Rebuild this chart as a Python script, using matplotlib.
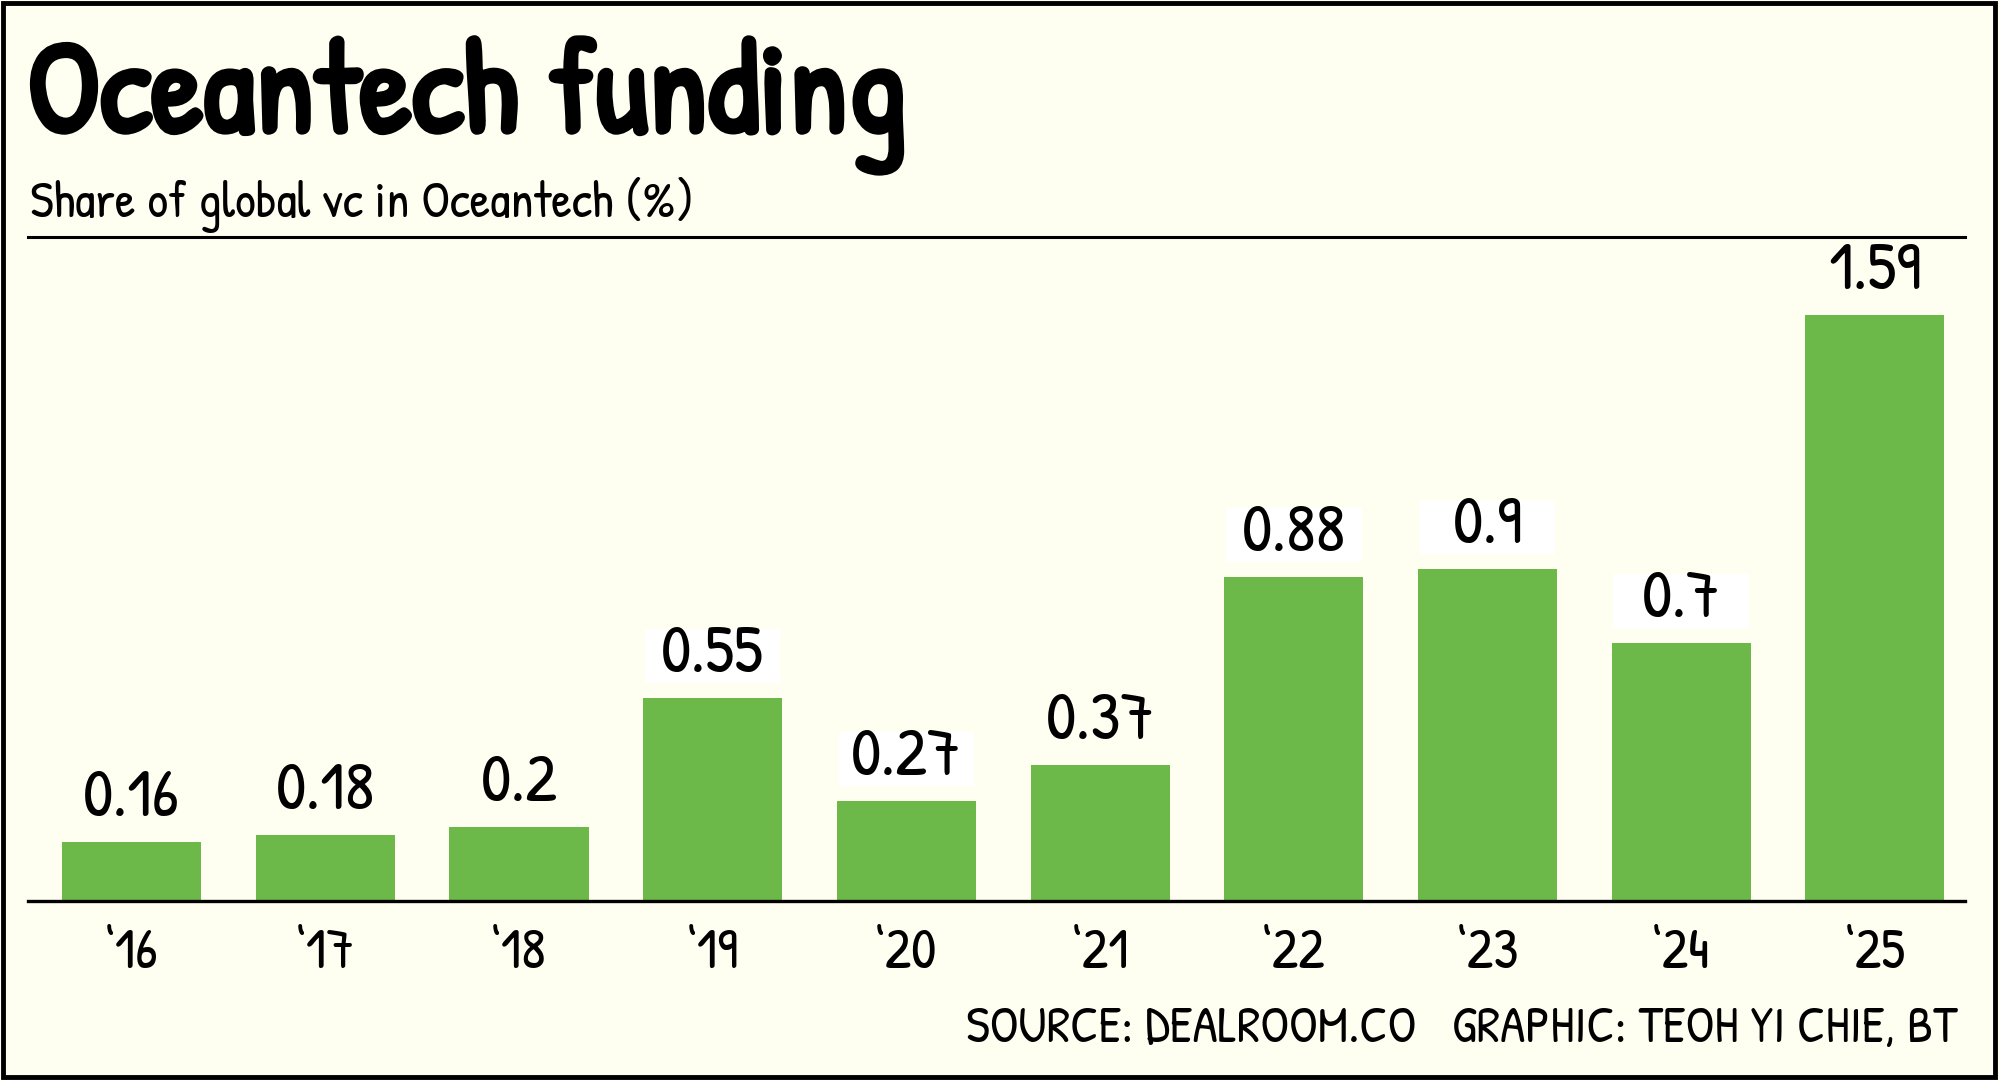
import matplotlib
matplotlib.use('Agg')
import matplotlib.pyplot as plt
import matplotlib.patheffects as pe
from matplotlib.patches import Rectangle
import numpy as np

years = ['\u201816', '\u201817', '\u201818', '\u201819', '\u201820',
         '\u201821', '\u201822', '\u201823', '\u201824', '\u201825']
share = [0.16, 0.18, 0.2, 0.55, 0.27, 0.37, 0.88, 0.9, 0.7, 1.59]
labels = ['0.16', '0.18', '0.2', '0.55', '0.27', '0.37', '0.88', '0.9', '0.7', '1.59']
# which value labels sit on a white patch in the original
boxed = [False, False, False, True, True, False, True, True, True, False]

bg = '#fefef1'
green = '#6cb94a'
plt.rcParams['font.family'] = ['Patrick Hand', 'DejaVu Sans']

fig = plt.figure(figsize=(20, 10.8), dpi=100)
fig.patch.set_facecolor(bg)

ax = fig.add_axes([0.014, 0.1657, 0.9685, 0.6149])
ax.set_facecolor(bg)

x = np.arange(len(share))
vals = np.array(share)
ax.bar(x, vals, width=0.718, color=green, zorder=2)

# white boxes behind some of the value labels
bx = x[np.array(boxed)]
ax.bar(bx, 0.1465, width=0.70, bottom=vals[np.array(boxed)] + 0.0407,
       color='white', zorder=2)
vtexts = []
for xi, v, lab in zip(x, vals, labels):
    t = ax.text(xi, v + 0.0705, lab, ha='center', va='baseline', fontsize=40, zorder=3)
    vtexts.append(t)

ax.set_xlim(-0.5346, 9.465)
ax.set_ylim(0, 1.801)
ax.set_xticks(x)
ax.set_xticklabels(years, fontsize=28)
ax.tick_params(axis='x', length=0, pad=19)
ax.set_yticks([])
for s in ['left', 'right']:
    ax.spines[s].set_visible(False)
ax.spines['top'].set_linewidth(2.2)
ax.spines['bottom'].set_linewidth(2.4)

title = fig.text(0.0135, 0.8778, 'Oceantech funding', fontsize=100, va='baseline',
                 path_effects=[pe.withStroke(linewidth=3.8, foreground='black')])
sub = fig.text(0.015, 0.7991, 'Share of global vc in Oceantech (%)', fontsize=40,
               va='baseline')
src = fig.text(0.9785, 0.0352, 'SOURCE: DEALROOM.CO   GRAPHIC: TEOH YI CHIE, BT',
               fontsize=40, ha='right', va='baseline')

# scale font sizes so the texts take the widths seen in the original
fig.canvas.draw()
r = fig.canvas.get_renderer()


def fit(t, width_px):
    w = t.get_window_extent(r).width
    t.set_fontsize(t.get_fontsize() * width_px / w)


fit(title, 880)
fit(sub, 663)
fit(src, 992)
w = vtexts[0].get_window_extent(r).width
size = 40 * 97 / w
for t in vtexts:
    t.set_fontsize(size)
tl = ax.get_xticklabels()[0]
tsize = 28 * 54 / tl.get_window_extent(r).width
ax.tick_params(axis='x', labelsize=tsize)

# frame round the graphic
fig.patches.append(Rectangle((0.0015, 0.0028), 0.996, 0.9944, transform=fig.transFigure,
                             fill=False, edgecolor='black', linewidth=3.5))

fig.savefig('out.png', dpi=100, facecolor=bg)
